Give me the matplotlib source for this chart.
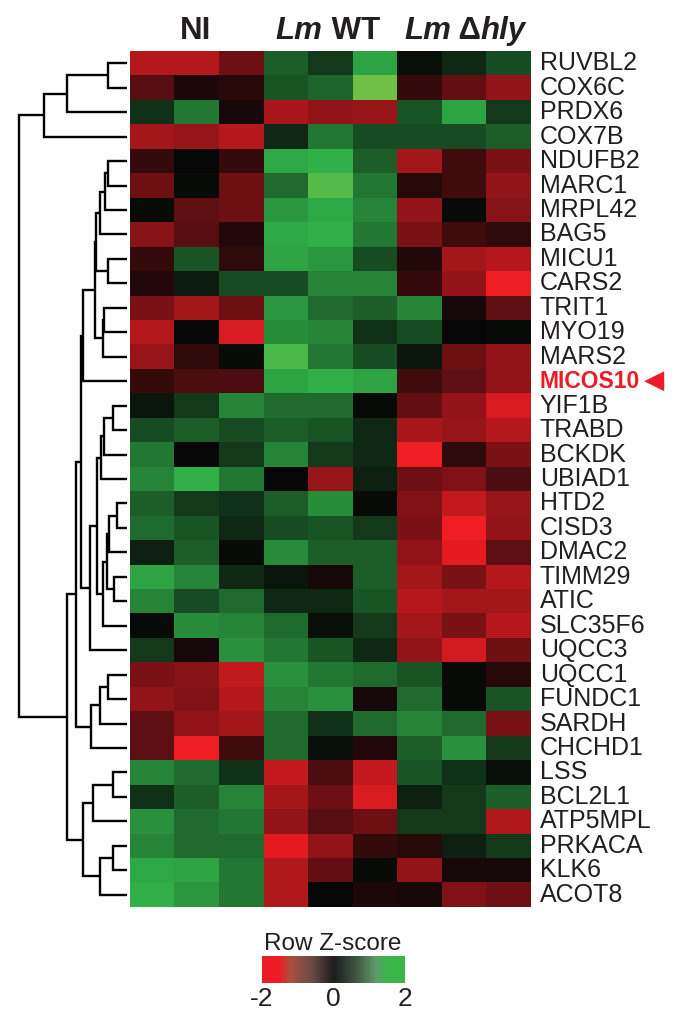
import numpy as np
import matplotlib
matplotlib.use("Agg")
import matplotlib.pyplot as plt
from matplotlib.colors import LinearSegmentedColormap, Normalize
from matplotlib.cm import ScalarMappable

plt.rcParams['font.family'] = ['Liberation Sans', 'DejaVu Sans']

genes = ["RUVBL2", "COX6C", "PRDX6", "COX7B", "NDUFB2", "MARC1", "MRPL42", "BAG5",
         "MICU1", "CARS2", "TRIT1", "MYO19", "MARS2", "MICOS10", "YIF1B", "TRABD",
         "BCKDK", "UBIAD1", "HTD2", "CISD3", "DMAC2", "TIMM29", "ATIC", "SLC35F6",
         "UQCC3", "UQCC1", "FUNDC1", "SARDH", "CHCHD1", "LSS", "BCL2L1", "ATP5MPL",
         "PRKACA", "KLK6", "ACOT8"]
highlight = "MICOS10"

# row z-scores, 3 replicates per condition
ni = [[-1.5, -1.5, -0.9], [-0.7, -0.2, -0.3], [0.5, 1.3, -0.15], [-1.35, -1.25, -1.5],
      [-0.4, 0.0, -0.4], [-0.9, 0.05, -0.9], [0.05, -0.75, -0.9], [-1.1, -0.7, -0.25],
      [-0.4, 0.9, -0.35], [-0.25, 0.25, 0.8], [-1.0, -1.35, -0.9], [-1.5, 0.0, -1.8],
      [-1.25, -0.35, 0.05], [-0.4, -0.6, -0.6], [0.2, 0.6, 1.45], [0.8, 1.0, 0.8],
      [1.3, 0.0, 0.6], [1.45, 1.95, 1.3], [1.0, 0.6, 0.5], [1.15, 0.9, 0.4],
      [0.3, 1.0, 0.05], [1.8, 1.45, 0.4], [1.45, 0.8, 1.15], [0.05, 1.55, 1.45],
      [0.6, -0.15, 1.6], [-1.0, -1.1, -1.6], [-1.2, -1.05, -1.5], [-0.75, -1.2, -1.35],
      [-0.75, -2.0, -0.5], [1.45, 1.15, 0.5], [0.5, 1.0, 1.45], [1.6, 1.15, 1.3],
      [1.45, 1.15, 1.15], [1.85, 1.8, 1.3], [1.95, 1.65, 1.3]]
wt = [[1.0, 0.6, 1.8], [0.9, 1.1, 2.3], [-1.4, -1.2, -1.25], [0.4, 1.3, 0.8],
      [1.85, 1.95, 1.0], [1.15, 2.15, 1.3], [1.65, 1.85, 1.45], [1.85, 1.95, 1.3],
      [1.8, 1.65, 0.8], [0.8, 1.45, 1.45], [1.65, 1.15, 1.0], [1.55, 1.45, 0.5],
      [2.1, 1.3, 0.8], [1.8, 1.95, 1.8], [1.15, 1.15, 0.05], [1.0, 0.9, 0.4],
      [1.45, 0.6, 0.4], [0.0, -1.25, 0.3], [1.0, 1.55, 0.05], [0.8, 0.9, 0.6],
      [1.5, 1.0, 1.0], [0.2, -0.15, 1.0], [0.4, 0.4, 0.9], [1.15, 0.1, 0.6],
      [1.3, 0.9, 0.4], [1.6, 1.3, 1.15], [1.45, 1.6, -0.15], [1.15, 0.5, 1.15],
      [1.15, 0.1, -0.25], [-1.6, -0.6, -1.6], [-1.35, -0.9, -1.8], [-1.2, -0.7, -0.9],
      [-1.9, -1.2, -0.4], [-1.45, -0.8, 0.05], [-1.45, 0.0, -0.2]]
dhly = [[0.1, 0.4, 0.8], [-0.4, -0.8, -1.2], [0.9, 1.8, 0.6], [0.8, 0.8, 1.0],
        [-1.35, -0.5, -1.0], [-0.3, -0.5, -1.2], [-1.2, 0.05, -1.1], [-1.0, -0.5, -0.35],
        [-0.25, -1.35, -1.5], [-0.4, -1.2, -2.0], [1.45, -0.15, -0.75], [0.8, 0.0, 0.05],
        [0.2, -0.9, -1.2], [-0.5, -0.75, -1.2], [-0.8, -1.2, -1.8], [-1.4, -1.25, -1.5],
        [-2.0, -0.35, -1.0], [-0.9, -1.05, -0.6], [-1.05, -1.6, -1.25], [-1.0, -2.0, -1.2],
        [-1.2, -1.9, -0.75], [-1.35, -1.0, -1.5], [-1.5, -1.35, -1.35], [-1.35, -1.0, -1.5],
        [-1.2, -1.75, -0.9], [0.9, 0.05, -0.3], [1.15, 0.05, 0.9], [1.45, 1.15, -1.0],
        [1.0, 1.6, 0.6], [0.9, 0.5, 0.1], [0.3, 0.6, 1.0], [0.6, 0.6, -1.45],
        [-0.3, 0.3, 0.6], [-1.2, -0.15, -0.15], [-0.15, -1.05, -0.9]]

# row dendrogram: (child a, child b, height); new nodes numbered from len(genes)
links = [(0, 1, 19.3), (35, 2, 59.7), (36, 3, 83.0),
         (4, 5, 18.7), (38, 6, 22.0), (39, 7, 27.0), (8, 9, 18.7), (40, 41, 31.3),
         (10, 11, 22.7), (43, 12, 24.3), (42, 44, 32.0), (45, 13, 44.3),
         (14, 15, 13.7), (47, 16, 22.7), (48, 17, 26.0), (18, 19, 10.3), (50, 20, 18.0),
         (21, 22, 12.7), (51, 52, 20.3), (53, 23, 23.7), (49, 54, 29.7), (55, 24, 37.0),
         (46, 56, 46.3),
         (25, 26, 18.7), (58, 27, 27.0), (59, 28, 36.3), (57, 60, 51.3),
         (29, 30, 14.3), (62, 31, 34.3), (32, 33, 14.3), (64, 34, 27.0), (63, 65, 44.3),
         (61, 66, 59.7), (37, 67, 108.0)]

data = np.hstack([np.array(ni), np.array(wt), np.array(dhly)])

W, H = 678, 1011
fig = plt.figure(figsize=(W / 100, H / 100), dpi=100)

heat_cmap = LinearSegmentedColormap.from_list(
    "rg", [(0.0, (238/255, 30/255, 36/255)), (2/4.3, (6/255, 6/255, 6/255)),
           (4/4.3, (50/255, 180/255, 75/255)), (1.0, (112/255, 192/255, 72/255))])

ax = fig.add_axes([130 / W, 1 - 907 / H, 401 / W, 856 / H])
ax.imshow(data, cmap=heat_cmap, norm=Normalize(-2, 2.3), aspect='auto', interpolation='nearest')
ax.set_xticks([])
ax.set_yticks([])
for s in ax.spines.values():
    s.set_visible(False)

txtc = '#231f20'
for i, g in enumerate(genes):
    if g == highlight:
        t = ax.text(1.022, i, g, transform=ax.get_yaxis_transform(), va='center', ha='left',
                    fontsize=16.5, color='#ed1c24', fontweight='bold')
        ax.annotate('\u25c0', xy=(1, 0.5), xycoords=t, xytext=(3, 0), textcoords='offset points',
                    va='center', ha='left', fontsize=19, color='#ed1c24', family='DejaVu Sans')
    else:
        ax.text(1.022, i, g, transform=ax.get_yaxis_transform(), va='center', ha='left',
                fontsize=18, color=txtc)

# dendrogram
dax = fig.add_axes([0, 1 - 907 / H, 130 / W, 856 / H], sharey=ax)
dax.axis('off')
pos = {i: float(i) for i in range(len(genes))}
hgt = {i: 0.0 for i in range(len(genes))}
for k, (a, b, h) in enumerate(links):
    n = len(genes) + k
    dax.plot([hgt[a], h, h, hgt[b]], [pos[a], pos[a], pos[b], pos[b]],
             color='black', lw=1.7, solid_capstyle='butt', solid_joinstyle='miter')
    pos[n] = (pos[a] + pos[b]) / 2
    hgt[n] = h
dax.set_xlim(127, -3)
dax.set_ylim(len(genes) - 0.5, -0.5)

# column headers
r = fig.canvas.get_renderer()


def header(parts, xc, ybase):
    texts, widths = [], []
    for s, style in parts:
        t = fig.text(0, ybase, s, fontsize=22.5, fontweight='bold', fontstyle=style,
                     color=txtc, va='baseline', ha='left')
        texts.append(t)
        widths.append(t.get_window_extent(r).width)
    x = xc - sum(widths) / 2
    for t, w in zip(texts, widths):
        t.set_x(x / W)
        x += w


ybase = 1 - 39 / H
header([("NI", 'normal')], 196, ybase)
header([("Lm", 'italic'), (" WT", 'normal')], 328, ybase)
header([("Lm", 'italic'), (" \u0394", 'normal'), ("hly", 'italic')], 465, ybase)

# colour key
cb_cmap = LinearSegmentedColormap.from_list(
    "key", [(0.0, '#ed1c24'), (0.12, '#ed1c24'), (0.2, '#a8503f'), (0.35, '#6a4a44'),
            (0.5, '#1e1c1e'), (0.65, '#3b5140'), (0.8, '#5f9a68'), (0.88, '#39b54a'),
            (1.0, '#39b54a')])
cax = fig.add_axes([262 / W, 1 - 983 / H, 143 / W, 27 / H])
cb = fig.colorbar(ScalarMappable(norm=Normalize(-2, 2), cmap=cb_cmap), cax=cax,
                  orientation='horizontal', ticks=[-2, 0, 2])
cb.outline.set_visible(False)
cax.tick_params(length=0, labelsize=19, pad=3, labelcolor=txtc)
cax.set_xticklabels(['-2', '0', '2'])
fig.text(333 / W, 1 - 950 / H, "Row Z-score", ha='center', va='baseline', fontsize=17.5, color=txtc)

fig.savefig("out.png", dpi=100)
